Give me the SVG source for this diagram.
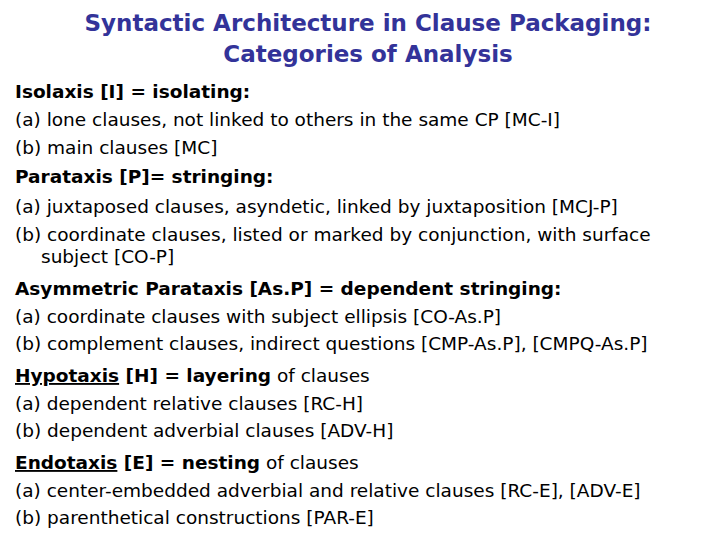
<svg xmlns="http://www.w3.org/2000/svg" width="720" height="540" viewBox="0 0 720 540">
<style>
.t{font-family:"DejaVu Sans",Verdana,sans-serif;font-size:23px;font-weight:bold;fill:#333399;text-anchor:middle}
.b{font-family:"DejaVu Sans",Verdana,sans-serif;font-size:18.5px;fill:#000}
.k{font-weight:bold}
.u{text-decoration:underline}
</style>
<rect width="720" height="540" fill="#fff"/>
<text class="t" x="368" y="31">Syntactic Architecture in Clause Packaging:</text>
<text class="t" x="368" y="62">Categories of Analysis</text>
<text class="b" x="15" y="98"><tspan class="k">Isolaxis [I] = isolating:</tspan></text>
<text class="b" x="15" y="126">(a) lone clauses, not linked to others in the same CP [MC-I]</text>
<text class="b" x="15" y="154">(b) main clauses [MC]</text>
<text class="b" x="15" y="183"><tspan class="k">Parataxis [P]= stringing:</tspan></text>
<text class="b" x="15" y="213">(a) juxtaposed clauses, asyndetic, linked by juxtaposition [MCJ-P]</text>
<text class="b" x="15" y="241">(b) coordinate clauses, listed or marked by conjunction, with surface</text>
<text class="b" x="41" y="263">subject [CO-P]</text>
<text class="b" x="15" y="295"><tspan class="k">Asymmetric Parataxis [As.P] = dependent stringing:</tspan></text>
<text class="b" x="15" y="323">(a) coordinate clauses with subject ellipsis [CO-As.P]</text>
<text class="b" x="15" y="350">(b) complement clauses, indirect questions [CMP-As.P], [CMPQ-As.P]</text>
<text class="b" x="15" y="382"><tspan class="k u">Hypotaxis</tspan><tspan class="k"> [H] = layering</tspan> of clauses</text>
<text class="b" x="15" y="410">(a) dependent relative clauses [RC-H]</text>
<text class="b" x="15" y="437">(b) dependent adverbial clauses [ADV-H]</text>
<text class="b" x="15" y="469"><tspan class="k u">Endotaxis</tspan><tspan class="k"> [E] = nesting</tspan> of clauses</text>
<text class="b" x="15" y="497">(a) center-embedded adverbial and relative clauses [RC-E], [ADV-E]</text>
<text class="b" x="15" y="524">(b) parenthetical constructions [PAR-E]</text>
</svg>
